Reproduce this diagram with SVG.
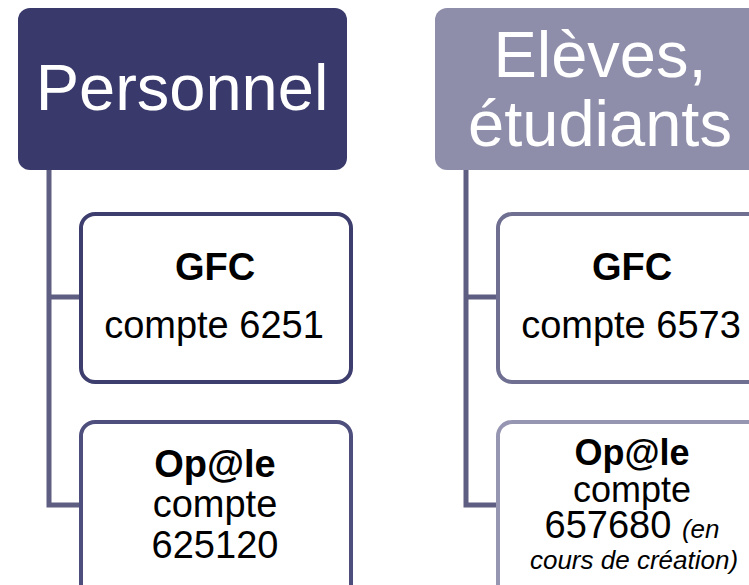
<svg xmlns="http://www.w3.org/2000/svg" width="749" height="585" viewBox="0 0 749 585">
<style>
text{font-family:"Liberation Sans",Arial,sans-serif;text-anchor:middle}
.hd{fill:#fff;font-size:65px}
.t{fill:#000;font-size:38px}
.s{font-size:36px}
.b{font-weight:bold}
.i{font-style:italic;font-size:26px}
.conn{fill:none;stroke:#5e5e82;stroke-width:5}
.box{fill:#fff;stroke-width:4}
</style>
<rect width="749" height="585" fill="#fff"/>
<g id="connectors">
<path class="conn" d="M49 170V505H82M49 297H82"/>
<path class="conn" d="M466 170V505H499M466 297H499"/>
</g>
<g id="personnel">
<rect x="18" y="8" width="329" height="162" rx="12" fill="#393a6b"/>
<text class="hd" x="182" y="110">Personnel</text>
</g>
<g id="eleves">
<rect x="435" y="8" width="330" height="162" rx="12" fill="#8e8eab"/>
<text class="hd" x="600" y="77">Elèves,</text>
<text class="hd" x="600" y="146">étudiants</text>
</g>
<g id="gfc-personnel">
<rect class="box" x="81" y="214" width="270" height="168" rx="14" stroke="#3d3e6e"/>
<text class="t b" x="215" y="280">GFC</text>
<text class="t" x="214" y="338">compte 6251</text>
</g>
<g id="opale-personnel">
<rect class="box" x="81" y="422" width="270" height="190" rx="14" stroke="#4e4f7d"/>
<text class="t b" x="215" y="477">Op@le</text>
<text class="t" x="215" y="517">compte</text>
<text class="t" x="215" y="558">625120</text>
</g>
<g id="gfc-eleves">
<rect class="box" x="498" y="214" width="270" height="168" rx="14" stroke="#6f6f92"/>
<text class="t b" x="632" y="280">GFC</text>
<text class="t" x="631" y="338">compte 6573</text>
</g>
<g id="opale-eleves">
<rect class="box" x="498" y="422" width="270" height="190" rx="14" stroke="#9696b2"/>
<text class="t s b" x="632" y="465">Op@le</text>
<text class="t s" x="632" y="502">compte</text>
<text class="t" x="632" y="538">657680 <tspan class="i">(en</tspan></text>
<text class="t i" x="634" y="569">cours de création)</text>
</g>
</svg>
